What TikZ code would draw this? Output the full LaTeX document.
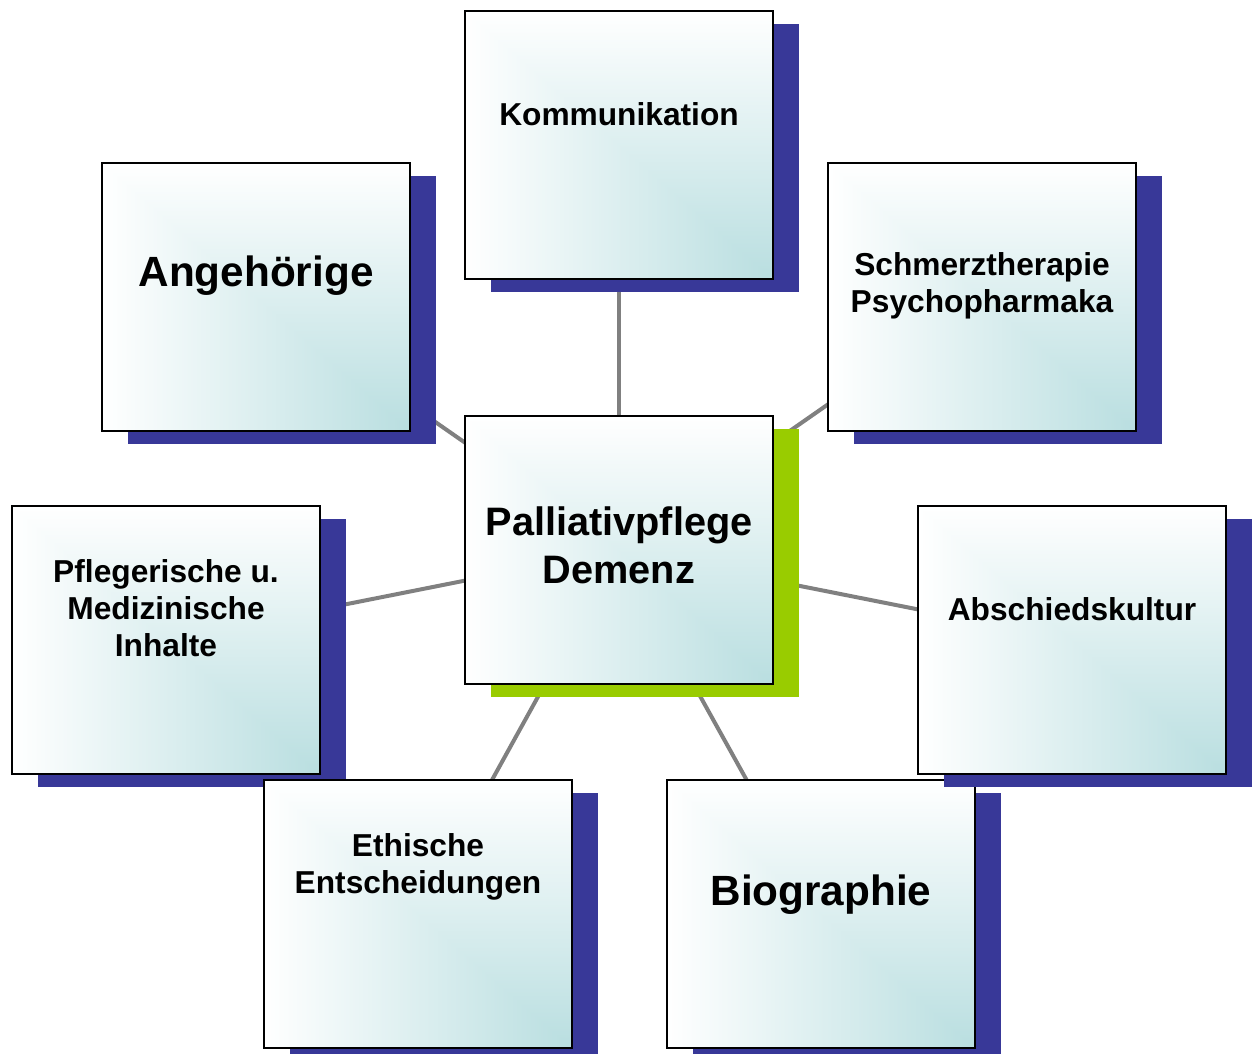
\documentclass[tikz,border=0pt]{standalone}
\usepackage{fontspec}
\setmainfont{Liberation Sans}
\usetikzlibrary{shadows,backgrounds}
\definecolor{shadowblue}{RGB}{56,56,152}
\definecolor{centergreen}{RGB}{153,204,0}
\definecolor{conngray}{RGB}{128,128,128}
\pgfdeclarefunctionalshading{boxshade}{\pgfpoint{0bp}{0bp}}{\pgfpoint{100bp}{100bp}}{}{
 75 exch sub 50 div
 exch 25 sub 50 div
 2 copy gt {exch} if pop
 dup 0 lt {pop 0} if
 dup 1 gt {pop 1} if
 dup 0.275 mul 1 exch sub
 exch dup 0.129 mul 1 exch sub
 exch 0.122 mul 1 exch sub
}
\newcommand\fsmall{\fontsize{31.7}{36.8}\selectfont\bfseries}
\newcommand\fmid{\fontsize{39.7}{47.5}\selectfont\bfseries}
\newcommand\fbig{\fontsize{42.3}{50}\selectfont\bfseries}
\begin{document}
\begin{tikzpicture}[x=1pt,y=-1pt,
  box/.style={draw=black, line width=2pt, shade, shading=boxshade,
    minimum width=308pt, minimum height=268pt, inner sep=0pt,
    drop shadow={shadow xshift=26pt, shadow yshift=-13pt, opacity=1, fill=#1}},
  box/.default=shadowblue,
  lbl/.style={anchor=base, align=center, inner sep=0pt, text=black},
  conn/.style={draw=conngray, line width=4pt}]
\useasboundingbox (0,0) rectangle (1257,1053);

\node[box] (k) at (619,145) {};
\node[box] (a) at (256,297) {};
\node[box] (s) at (982,297) {};
\node[box=centergreen] (c) at (619,550) {};
\node[box] (b) at (821,914) {};
\node[box] (ab) at (1072,640) {};
\node[box] (p) at (166,640) {};
\node[box] (e) at (418,914) {};

% anchor=base of a multi-line label is the baseline of its last line
\node[lbl, font=\fsmall] (kt) at (619,125) {Kommunikation};
\node[lbl, font=\fbig] (at) at (256,286) {Angehörige};
\node[lbl, font=\fsmall] (st) at (982,312) {Schmerztherapie\\Psychopharmaka};
\node[lbl, font=\fmid] (ct) at (619,583) {Palliativpflege\\Demenz};
\node[lbl, font=\fsmall] (pt) at (166,656) {Pflegerische u.\\Medizinische\\Inhalte};
\node[lbl, font=\fsmall] (abt) at (1072,620) {Abschiedskultur};
\node[lbl, font=\fsmall] (et) at (418,893) {Ethische\\Entscheidungen};
\node[lbl, font=\fbig] (bt) at (821,905) {Biographie};

\begin{pgfonlayer}{background}
\foreach \n in {k,a,s,p,ab,e,b}
  \draw[conn] (c.center) -- (\n.center);
\end{pgfonlayer}
\end{tikzpicture}
\end{document}
